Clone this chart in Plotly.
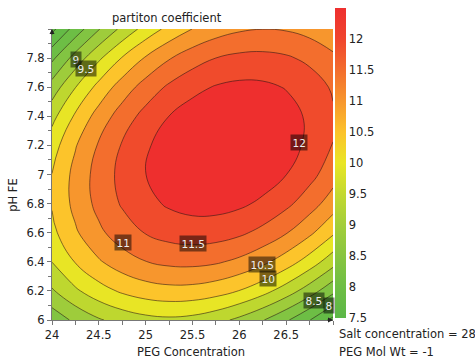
import plotly.graph_objects as go

# ---- data ----
peg_concentration = [24.0, 24.25, 24.5, 24.75, 25.0, 25.25, 25.5, 25.75, 26.0, 26.25, 26.5, 26.75, 27.0]
ph_fe = [6.0, 6.2, 6.4, 6.6, 6.8, 7.0, 7.2, 7.4, 7.6, 7.8, 8.0]

# partition coefficient, one row per pH value
partition = [
    [8.176, 8.611, 8.948, 9.185, 9.343, 9.403, 9.343, 9.164, 8.886, 8.530, 8.074, 7.519, 6.866],
    [8.941, 9.418, 9.797, 10.076, 10.256, 10.337, 10.320, 10.203, 9.987, 9.673, 9.259, 8.746, 8.135],
    [9.507, 10.026, 10.446, 10.768, 10.990, 11.113, 11.137, 11.063, 10.889, 10.616, 10.245, 9.774, 9.204],
    [9.873, 10.434, 10.897, 11.260, 11.524, 11.690, 11.756, 11.723, 11.592, 11.361, 11.031, 10.602, 10.075],
    [10.040, 10.644, 11.148, 11.553, 11.860, 12.067, 12.175, 12.184, 12.095, 11.906, 11.618, 11.232, 10.746],
    [10.008, 10.654, 11.200, 11.647, 11.996, 12.245, 12.395, 12.447, 12.399, 12.252, 12.006, 11.662, 11.218],
    [9.777, 10.465, 11.053, 11.542, 11.933, 12.224, 12.416, 12.509, 12.504, 12.399, 12.195, 11.893, 11.491],
    [9.347, 10.076, 10.707, 11.238, 11.670, 12.004, 12.238, 12.373, 12.409, 12.347, 12.185, 11.924, 11.565],
    [8.718, 9.489, 10.161, 10.734, 11.209, 11.584, 11.860, 12.038, 12.116, 12.095, 11.976, 11.757, 11.439],
    [7.889, 8.702, 9.416, 10.032, 10.548, 10.965, 11.284, 11.503, 11.623, 11.644, 11.567, 11.390, 11.114],
    [6.861, 7.716, 8.472, 9.130, 9.688, 10.147, 10.508, 10.769, 10.931, 10.995, 10.959, 10.824, 10.590],
]

x_tick_values = [24, 24.5, 25, 25.5, 26, 26.5]
x_tick_labels = ["24", "24.5", "25", "25.5", "26", "26.5"]
y_tick_values = [6, 6.2, 6.4, 6.6, 6.8, 7, 7.2, 7.4, 7.6, 7.8]
y_tick_labels = ["6", "6.2", "6.4", "6.6", "6.8", "7", "7.2", "7.4", "7.6", "7.8"]
cbar_tick_values = [7.5, 8, 8.5, 9, 9.5, 10, 10.5, 11, 11.5, 12]
cbar_tick_labels = ["7.5", "8", "8.5", "9", "9.5", "10", "10.5", "11", "11.5", "12"]

# contour labels (text, PEG, pH)
label_text = ["9", "9.5", "11", "11.5", "12", "10.5", "10", "8.5", "8"]
label_peg = [24.253, 24.366, 24.761, 25.50, 26.636, 26.241, 26.302, 26.80, 26.956]
label_ph = [7.789, 7.728, 6.531, 6.528, 7.22, 6.381, 6.282, 6.137, 6.10]

FONT = "DejaVu Sans"

# band colours (below 7, 7-7.5, ... , above 12)
band_colors = ["#5fb947", "#64bb46", "#6dbe45", "#82c442", "#9ecc3b", "#bed72f",
               "#e8e525", "#fcc42b", "#f7962d", "#f36e2d", "#f04b2c", "#ee2f2e"]
n = len(band_colors)
fill_scale = [[i / (n - 1), c] for i, c in enumerate(band_colors)]

cbar_scale = [
    [0.0, "#5cb748"], [0.1, "#6ebe44"], [0.2, "#88c540"], [0.3, "#a3ce3a"],
    [0.4, "#c3d930"], [0.5, "#e9e625"], [0.6, "#fcc22b"], [0.7, "#f7962d"],
    [0.8, "#f36d2d"], [0.9, "#f0452d"], [1.0, "#ee2f2f"],
]

fig = go.Figure()
fig.add_trace(go.Contour(
    x=peg_concentration, y=ph_fe, z=partition,
    autocontour=False,
    contours=dict(start=7, end=12, size=0.5, coloring="fill", showlabels=False),
    colorscale=fill_scale,
    line=dict(color="rgba(40,20,20,0.8)", width=0.7, smoothing=1.2),
    showscale=False, hoverinfo="skip",
))

# continuous colour bar
fig.add_trace(go.Scatter(
    x=[peg_concentration[0]], y=[ph_fe[0]], mode="markers",
    marker=dict(size=1, opacity=0, color=[cbar_tick_values[0]], cmin=7.5, cmax=12.5,
                colorscale=cbar_scale, showscale=True,
                colorbar=dict(x=1.007, xanchor="left", y=1.072, yanchor="top",
                              len=1.065, lenmode="fraction", thickness=11,
                              outlinewidth=0, xpad=0, ypad=0, ticks="",
                              tickvals=cbar_tick_values, ticktext=cbar_tick_labels,
                              tickfont=dict(family=FONT, size=11.5, color="#222"))),
    hoverinfo="skip", showlegend=False,
))

annotations = []
for t, xv, yv in zip(label_text, label_peg, label_ph):
    annotations.append(dict(x=xv, y=yv, xref="x", yref="y", text=t, showarrow=False,
                            font=dict(family=FONT, size=10.5, color="#eeeeee"),
                            bgcolor="rgba(0,0,0,0.5)", borderpad=1.5))

annotations += [
    dict(x=0.409, y=1.037, xref="paper", yref="paper", text="partiton coefficient",
         showarrow=False, font=dict(family=FONT, size=11.5, color="#222"), yanchor="middle"),
    dict(x=0.496, y=-0.11, xref="paper", yref="paper", text="PEG Concentration",
         showarrow=False, font=dict(family=FONT, size=11.5, color="#222"), yanchor="middle"),
    dict(x=-0.139, y=0.43, xref="paper", yref="paper", text="pH FE", textangle=-90,
         showarrow=False, font=dict(family=FONT, size=11.5, color="#222"), xanchor="center",
         yanchor="middle"),
    dict(x=1.014, y=-0.049, xref="paper", yref="paper", text="Salt concentration = 28",
         showarrow=False, font=dict(family=FONT, size=11.5, color="#222"),
         xanchor="left", yanchor="middle"),
    dict(x=1.014, y=-0.111, xref="paper", yref="paper", text="PEG Mol Wt = -1",
         showarrow=False, font=dict(family=FONT, size=11.5, color="#222"),
         xanchor="left", yanchor="middle"),
    # axis arrow heads
    dict(x=0, y=1.0, xref="paper", yref="paper", text="", showarrow=True, ax=0, ay=7,
         arrowhead=2, arrowsize=1, arrowwidth=1, arrowcolor="#222", standoff=0),
    dict(x=1.0, y=0, xref="paper", yref="paper", text="", showarrow=True, ax=-7, ay=0,
         arrowhead=2, arrowsize=1, arrowwidth=1, arrowcolor="#222", standoff=0),
]

axis_common = dict(showgrid=False, zeroline=False, showline=True, linecolor="#777",
                   linewidth=1, ticks="outside", tickcolor="#777", ticklen=4,
                   automargin=False,
                   tickfont=dict(family=FONT, size=11.5, color="#222"))

fig.update_layout(
    width=475, height=363,
    margin=dict(l=52, r=142, t=29, b=43, autoexpand=False),
    paper_bgcolor="white", plot_bgcolor="white",
    font=dict(family=FONT, size=11.5, color="#222"),
    xaxis=dict(range=[24, 27], tickvals=x_tick_values, ticktext=x_tick_labels,
               minor=dict(dtick=0.25, ticks="outside", ticklen=4, tickcolor="#777"),
               **axis_common),
    yaxis=dict(range=[6, 8], tickvals=y_tick_values, ticktext=y_tick_labels,
               minor=dict(dtick=0.1, ticks="outside", ticklen=3, tickcolor="#777"),
               **axis_common),
    annotations=annotations,
    showlegend=False,
)

fig.write_html("out.html", config={"displayModeBar": False},
               post_script="document.body.style.margin='0';")
